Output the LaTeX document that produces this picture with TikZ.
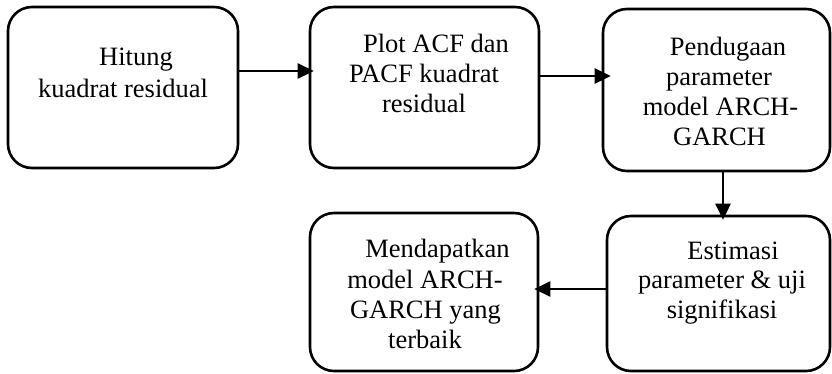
\documentclass[tikz,border=0pt]{standalone}
\usepackage{fontspec}
\setmainfont{Liberation Serif}
\usetikzlibrary{arrows.meta}
\begin{document}
\begin{tikzpicture}[x=1pt,y=-1pt,
  box/.style={draw=black,line width=2.6pt,rounded corners=24pt,inner sep=0pt},
  txt/.style={anchor=base,inner sep=0pt,font=\fontsize{26.5}{30}\selectfont},
  arr/.style={line width=2.6pt,-{Triangle[length=16pt,width=15pt]},shorten >=-5pt}]
\useasboundingbox (0,0) rectangle (832,373);

% process boxes
\node[box,minimum width=230pt,minimum height=161pt] (b1) at (123,87.5) {};
\node[box,minimum width=229pt,minimum height=161pt] (b2) at (424.5,87.5) {};
\node[box,minimum width=227pt,minimum height=162pt] (b3) at (716.5,90) {};
\node[box,minimum width=223pt,minimum height=155pt] (b5) at (718.5,293.5) {};
\node[box,minimum width=228pt,minimum height=158pt] (b4) at (424,292) {};

% box texts
\node[txt] (t1a) at (136,65) {Hitung};
\node[txt] (t1b) at (123,97) {kuadrat residual};

\node[txt] (t2a) at (436,52) {Plot ACF dan};
\node[txt] (t2b) at (424,82) {PACF kuadrat};
\node[txt] (t2c) at (424,112) {residual};

\node[txt] (t3a) at (728,55) {Pendugaan};
\node[txt] (t3b) at (719,85) {parameter};
\node[txt] (t3c) at (720.5,115) {model ARCH-};
\node[txt] (t3d) at (719.5,145) {GARCH};

\node[txt] (t5a) at (733,259) {Estimasi};
\node[txt] (t5b) at (722,288) {parameter \& uji};
\node[txt] (t5c) at (722,318) {signifikasi};

\node[txt] (t4a) at (437.5,257) {Mendapatkan};
\node[txt] (t4b) at (425,288) {model ARCH-};
\node[txt] (t4c) at (425.5,318) {GARCH yang};
\node[txt] (t4d) at (425,348) {terbaik};

% connectors
\draw[arr] ([yshift=16.5pt]b1.east) -- ([yshift=16.5pt]b1.east -| b2.west);
\draw[arr,shorten >=-9pt] ([yshift=11.5pt]b2.east) -- ([yshift=11.5pt]b2.east -| b3.west);
\draw[arr] ([xshift=6.5pt]b3.south) -- ([xshift=6.5pt]b3.south |- b5.north);
\draw[arr] ([yshift=4.5pt]b5.west) -- ([yshift=4.5pt]b5.west -| b4.east);
\end{tikzpicture}
\end{document}
